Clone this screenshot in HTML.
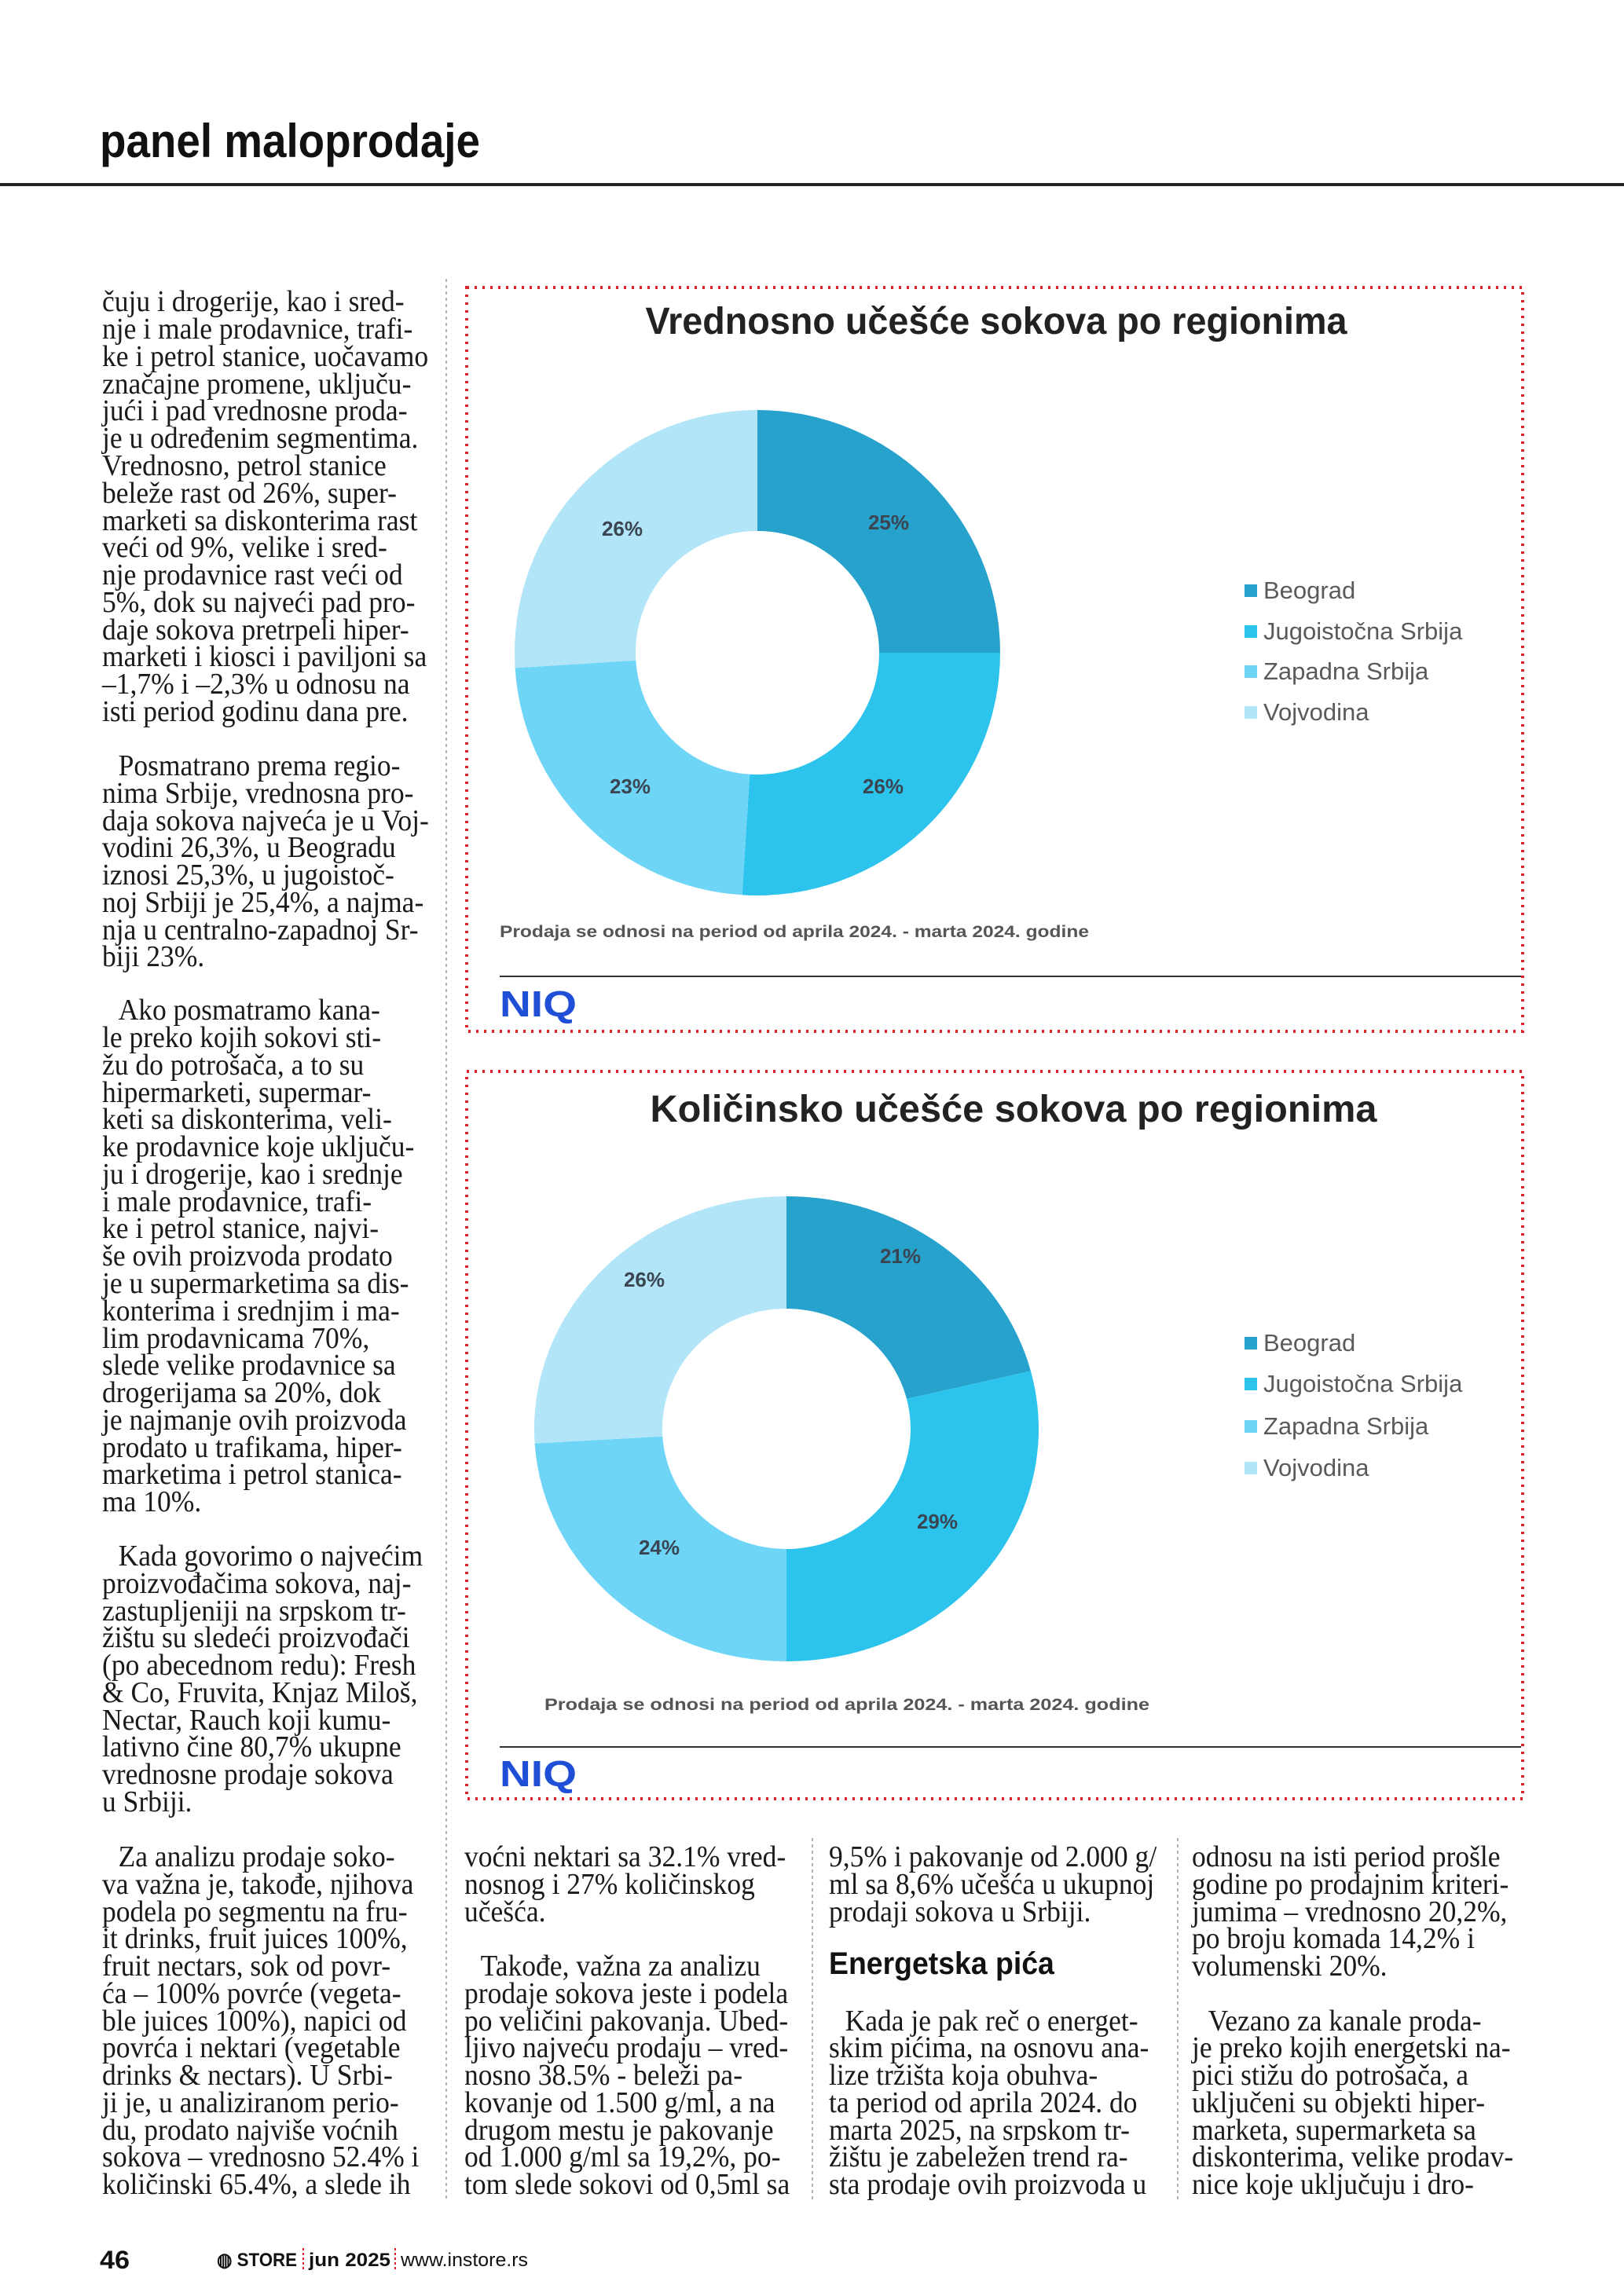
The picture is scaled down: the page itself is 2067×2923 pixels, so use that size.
<!DOCTYPE html>
<html><head><meta charset="utf-8"><style>
html,body{margin:0;padding:0;background:#fff;}
svg{display:block;}
.b{font-family:"Liberation Serif",serif;font-size:38px;fill:#1a1a1a;}
.lg{font-family:"Liberation Sans",sans-serif;font-size:31px;fill:#5a5a5a;}
.pl{font-family:"Liberation Sans",sans-serif;font-size:26px;font-weight:bold;fill:#3b4552;}
.nt{font-family:"Liberation Sans",sans-serif;font-size:21px;font-weight:bold;fill:#555;}
.ti{font-family:"Liberation Sans",sans-serif;font-size:48px;font-weight:bold;fill:#222;}
.niq{font-family:"Liberation Sans",sans-serif;font-size:46px;font-weight:bold;fill:#1f4fd6;}
</style></head><body>
<svg width="2067" height="2923" viewBox="0 0 2067 2923" xmlns="http://www.w3.org/2000/svg">
<rect width="2067" height="2923" fill="#fff"/>
<text x="127" y="200" font-family="Liberation Sans,sans-serif" font-weight="bold" font-size="60" fill="#111" textLength="484" lengthAdjust="spacingAndGlyphs">panel maloprodaje</text>
<rect x="0" y="233" width="2067" height="4" fill="#222"/>

<line x1="568" y1="355" x2="568" y2="2800" stroke="#999" stroke-width="1.5" stroke-dasharray="4 4"/>
<line x1="1034" y1="2340" x2="1034" y2="2800" stroke="#999" stroke-width="1.5" stroke-dasharray="4 4"/>
<line x1="1499" y1="2340" x2="1499" y2="2800" stroke="#999" stroke-width="1.5" stroke-dasharray="4 4"/>

<rect x="594" y="366" width="1344" height="947" fill="none" stroke="#e0202a" stroke-width="4" stroke-dasharray="3 7"/>
<text class="ti" x="1268" y="425" text-anchor="middle" textLength="893" lengthAdjust="spacingAndGlyphs">Vrednosno učešće sokova po regionima</text>
<path d="M964,522 A309,309 0 0 1 1273,831 L1119,831 A155,155 0 0 0 964,676 Z" fill="#26a2cc"/>
<path d="M1273,831 A309,309 0 0 1 944.6,1139.4 L954.3,985.7 A155,155 0 0 0 1119,831 Z" fill="#2cc3ec"/>
<path d="M944.6,1139.4 A309,309 0 0 1 655.6,850.4 L809.3,840.7 A155,155 0 0 0 954.3,985.7 Z" fill="#6fd5f7"/>
<path d="M655.6,850.4 A309,309 0 0 1 964,522 L964,676 A155,155 0 0 0 809.3,840.7 Z" fill="#b2e5f8"/>
<text class="pl" x="792" y="682" text-anchor="middle">26%</text>
<text class="pl" x="1131" y="674" text-anchor="middle">25%</text>
<text class="pl" x="802" y="1010" text-anchor="middle">23%</text>
<text class="pl" x="1124" y="1010" text-anchor="middle">26%</text>
<rect x="1584" y="744" width="16" height="16" fill="#26a2cc"/><text class="lg" x="1608" y="762">Beograd</text>
<rect x="1584" y="796" width="16" height="16" fill="#2cc3ec"/><text class="lg" x="1608" y="814">Jugoistočna Srbija</text>
<rect x="1584" y="847" width="16" height="16" fill="#6fd5f7"/><text class="lg" x="1608" y="865">Zapadna Srbija</text>
<rect x="1584" y="899" width="16" height="16" fill="#b2e5f8"/><text class="lg" x="1608" y="917">Vojvodina</text>
<text class="nt" x="636" y="1193" textLength="750" lengthAdjust="spacingAndGlyphs">Prodaja se odnosi na period od aprila 2024. - marta 2024. godine</text>
<rect x="636" y="1242" width="1300" height="2" fill="#333"/>
<text class="niq" x="636" y="1294" textLength="98" lengthAdjust="spacingAndGlyphs">NIQ</text>

<rect x="594" y="1364" width="1344" height="926" fill="none" stroke="#e0202a" stroke-width="4" stroke-dasharray="3 7"/>
<text class="ti" x="1290" y="1428" text-anchor="middle" textLength="925" lengthAdjust="spacingAndGlyphs">Količinsko učešće sokova po regionima</text>
<path d="M1001,1523 A321,296 0 0 1 1311.9,1745.4 L1154,1780.9 A158,153 0 0 0 1001,1666 Z" fill="#26a2cc"/>
<path d="M1311.9,1745.4 A321,296 0 0 1 1001,2115 L1001,1972 A158,153 0 0 0 1154,1780.9 Z" fill="#2cc3ec"/>
<path d="M1001,2115 A321,296 0 0 1 680.6,1837.6 L843.3,1828.6 A158,153 0 0 0 1001,1972 Z" fill="#6fd5f7"/>
<path d="M680.6,1837.6 A321,296 0 0 1 1001,1523 L1001,1666 A158,153 0 0 0 843.3,1828.6 Z" fill="#b2e5f8"/>
<text class="pl" x="1146" y="1608" text-anchor="middle">21%</text>
<text class="pl" x="820" y="1638" text-anchor="middle">26%</text>
<text class="pl" x="839" y="1979" text-anchor="middle">24%</text>
<text class="pl" x="1193" y="1946" text-anchor="middle">29%</text>
<rect x="1584" y="1702" width="16" height="16" fill="#26a2cc"/><text class="lg" x="1608" y="1720">Beograd</text>
<rect x="1584" y="1754" width="16" height="16" fill="#2cc3ec"/><text class="lg" x="1608" y="1772">Jugoistočna Srbija</text>
<rect x="1584" y="1808" width="16" height="16" fill="#6fd5f7"/><text class="lg" x="1608" y="1826">Zapadna Srbija</text>
<rect x="1584" y="1861" width="16" height="16" fill="#b2e5f8"/><text class="lg" x="1608" y="1879">Vojvodina</text>
<text class="nt" x="693" y="2177" textLength="770" lengthAdjust="spacingAndGlyphs">Prodaja se odnosi na period od aprila 2024. - marta 2024. godine</text>
<rect x="636" y="2223" width="1300" height="2" fill="#333"/>
<text class="niq" x="636" y="2274" textLength="98" lengthAdjust="spacingAndGlyphs">NIQ</text>

<g transform="translate(130,0) scale(0.935,1)" class="b">
<text x="0" y="396">čuju i drogerije, kao i sred-</text>
<text x="0" y="431">nje i male prodavnice, trafi-</text>
<text x="0" y="466">ke i petrol stanice, uočavamo</text>
<text x="0" y="501">značajne promene, uključu-</text>
<text x="0" y="535">jući i pad vrednosne proda-</text>
<text x="0" y="570">je u određenim segmentima.</text>
<text x="0" y="605">Vrednosno, petrol stanice</text>
<text x="0" y="640">beleže rast od 26%, super-</text>
<text x="0" y="675">marketi sa diskonterima rast</text>
<text x="0" y="709">veći od 9%, velike i sred-</text>
<text x="0" y="744">nje prodavnice rast veći od</text>
<text x="0" y="779">5%, dok su najveći pad pro-</text>
<text x="0" y="814">daje sokova pretrpeli hiper-</text>
<text x="0" y="848">marketi i kiosci i paviljoni sa</text>
<text x="0" y="883">–1,7% i –2,3% u odnosu na</text>
<text x="0" y="918">isti period godinu dana pre.</text>

<text x="22" y="987">Posmatrano prema regio-</text>
<text x="0" y="1022">nima Srbije, vrednosna pro-</text>
<text x="0" y="1057">daja sokova najveća je u Voj-</text>
<text x="0" y="1091">vodini 26,3%, u Beogradu</text>
<text x="0" y="1126">iznosi 25,3%, u jugoistoč-</text>
<text x="0" y="1161">noj Srbiji je 25,4%, a najma-</text>
<text x="0" y="1196">nja u centralno-zapadnoj Sr-</text>
<text x="0" y="1230">biji 23%.</text>

<text x="22" y="1298">Ako posmatramo kana-</text>
<text x="0" y="1333">le preko kojih sokovi sti-</text>
<text x="0" y="1368">žu do potrošača, a to su</text>
<text x="0" y="1403">hipermarketi, supermar-</text>
<text x="0" y="1437">keti sa diskonterima, veli-</text>
<text x="0" y="1472">ke prodavnice koje uključu-</text>
<text x="0" y="1507">ju i drogerije, kao i srednje</text>
<text x="0" y="1542">i male prodavnice, trafi-</text>
<text x="0" y="1576">ke i petrol stanice, najvi-</text>
<text x="0" y="1611">še ovih proizvoda prodato</text>
<text x="0" y="1646">je u supermarketima sa dis-</text>
<text x="0" y="1681">konterima i srednjim i ma-</text>
<text x="0" y="1716">lim prodavnicama 70%,</text>
<text x="0" y="1750">slede velike prodavnice sa</text>
<text x="0" y="1785">drogerijama sa 20%, dok</text>
<text x="0" y="1820">je najmanje ovih proizvoda</text>
<text x="0" y="1855">prodato u trafikama, hiper-</text>
<text x="0" y="1889">marketima i petrol stanica-</text>
<text x="0" y="1924">ma 10%.</text>

<text x="22" y="1993">Kada govorimo o najvećim</text>
<text x="0" y="2028">proizvođačima sokova, naj-</text>
<text x="0" y="2063">zastupljeniji na srpskom tr-</text>
<text x="0" y="2097">žištu su sledeći proizvođači</text>
<text x="0" y="2132">(po abecednom redu): Fresh</text>
<text x="0" y="2167">&amp; Co, Fruvita, Knjaz Miloš,</text>
<text x="0" y="2202">Nectar, Rauch koji kumu-</text>
<text x="0" y="2236">lativno čine 80,7% ukupne</text>
<text x="0" y="2271">vrednosne prodaje sokova</text>
<text x="0" y="2306">u Srbiji.</text>

<text x="22" y="2376">Za analizu prodaje soko-</text>
<text x="0" y="2411">va važna je, takođe, njihova</text>
<text x="0" y="2446">podela po segmentu na fru-</text>
<text x="0" y="2480">it drinks, fruit juices 100%,</text>
<text x="0" y="2515">fruit nectars, sok od povr-</text>
<text x="0" y="2550">ća – 100% povrće (vegeta-</text>
<text x="0" y="2585">ble juices 100%), napici od</text>
<text x="0" y="2619">povrća i nektari (vegetable</text>
<text x="0" y="2654">drinks &amp; nectars). U Srbi-</text>
<text x="0" y="2689">ji je, u analiziranom perio-</text>
<text x="0" y="2724">du, prodato najviše voćnih</text>
<text x="0" y="2758">sokova – vrednosno 52.4% i</text>
<text x="0" y="2793">količinski 65.4%, a slede ih</text>
</g>

<g transform="translate(591,0) scale(0.935,1)" class="b">
<text x="0" y="2376">voćni nektari sa 32.1% vred-</text>
<text x="0" y="2411">nosnog i 27% količinskog</text>
<text x="0" y="2446">učešća.</text>
<text x="22" y="2515">Takođe, važna za analizu</text>
<text x="0" y="2550">prodaje sokova jeste i podela</text>
<text x="0" y="2585">po veličini pakovanja. Ubed-</text>
<text x="0" y="2619">ljivo najveću prodaju – vred-</text>
<text x="0" y="2654">nosno 38.5% - beleži pa-</text>
<text x="0" y="2689">kovanje od 1.500 g/ml, a na</text>
<text x="0" y="2724">drugom mestu je pakovanje</text>
<text x="0" y="2758">od 1.000 g/ml sa 19,2%, po-</text>
<text x="0" y="2793">tom slede sokovi od 0,5ml sa</text>
</g>

<g transform="translate(1055,0) scale(0.935,1)" class="b">
<text x="0" y="2376">9,5% i pakovanje od 2.000 g/</text>
<text x="0" y="2411">ml sa 8,6% učešća u ukupnoj</text>
<text x="0" y="2446">prodaji sokova u Srbiji.</text>
<text x="0" y="2513" font-family="Liberation Sans,sans-serif" font-weight="bold" font-size="40" fill="#111">Energetska pića</text>
<text x="22" y="2585">Kada je pak reč o energet-</text>
<text x="0" y="2619">skim pićima, na osnovu ana-</text>
<text x="0" y="2654">lize tržišta koja obuhva-</text>
<text x="0" y="2689">ta period od aprila 2024. do</text>
<text x="0" y="2724">marta 2025, na srpskom tr-</text>
<text x="0" y="2758">žištu je zabeležen trend ra-</text>
<text x="0" y="2793">sta prodaje ovih proizvoda u</text>
</g>

<g transform="translate(1517,0) scale(0.935,1)" class="b">
<text x="0" y="2376">odnosu na isti period prošle</text>
<text x="0" y="2411">godine po prodajnim kriteri-</text>
<text x="0" y="2446">jumima – vrednosno 20,2%,</text>
<text x="0" y="2480">po broju komada 14,2% i</text>
<text x="0" y="2515">volumenski 20%.</text>
<text x="22" y="2585">Vezano za kanale proda-</text>
<text x="0" y="2619">je preko kojih energetski na-</text>
<text x="0" y="2654">pici stižu do potrošača, a</text>
<text x="0" y="2689">uključeni su objekti hiper-</text>
<text x="0" y="2724">marketa, supermarketa sa</text>
<text x="0" y="2758">diskonterima, velike prodav-</text>
<text x="0" y="2793">nice koje uključuju i dro-</text>
</g>

<text x="127" y="2888" font-family="Liberation Sans,sans-serif" font-weight="bold" font-size="32" fill="#111" textLength="38" lengthAdjust="spacingAndGlyphs">46</text>
<g font-family="Liberation Sans,sans-serif" font-size="24" fill="#111">
<text x="276" y="2885" font-weight="bold" textLength="102" lengthAdjust="spacingAndGlyphs">◍ STORE</text>
<line x1="386" y1="2862" x2="386" y2="2890" stroke="#e0202a" stroke-width="2" stroke-dasharray="3 3"/>
<text x="393" y="2885" font-weight="bold" textLength="104" lengthAdjust="spacingAndGlyphs">jun 2025</text>
<line x1="503" y1="2862" x2="503" y2="2890" stroke="#e0202a" stroke-width="2" stroke-dasharray="3 3"/>
<text x="510" y="2885" textLength="162" lengthAdjust="spacingAndGlyphs">www.instore.rs</text>
</g>
</svg>
</body></html>
